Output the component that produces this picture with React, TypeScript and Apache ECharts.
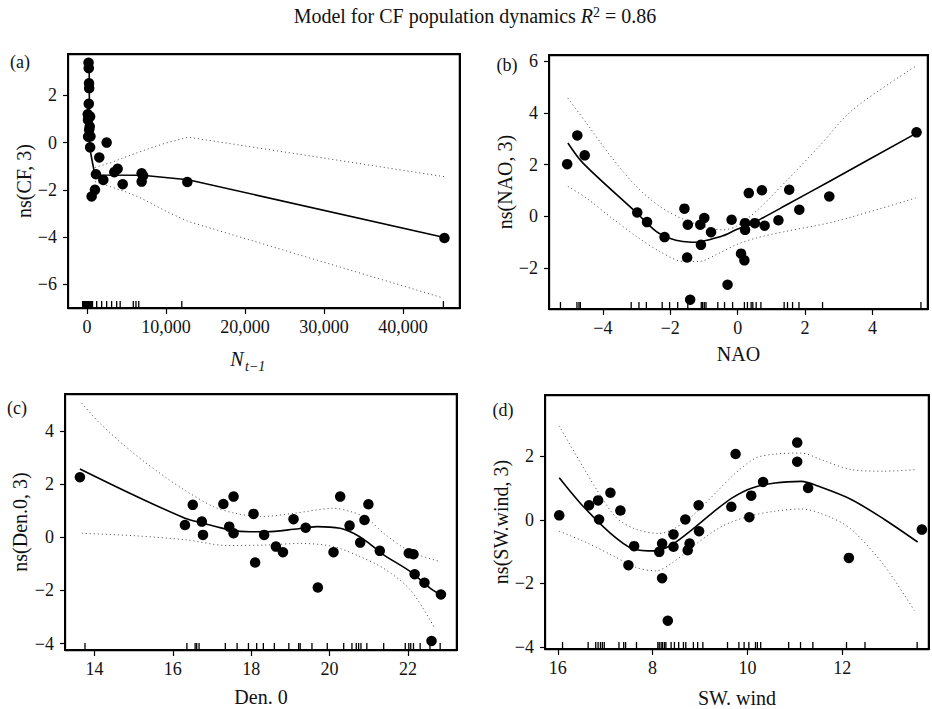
import React, { useEffect, useRef } from "react";
import * as echarts from "echarts";

const SERIF = '"Liberation Serif", "Times New Roman", serif';
const INK = "#111";

// ---------- Panel (a): ns(CF, 3) vs N_{t-1} ----------
const aPoints: number[][] = [
  [200, 3.38], [230, 3.15], [260, 2.51], [280, 2.3], [230, 1.64], [100, 1.2], [400, 1.1],
  [130, 0.96], [350, 0.68], [280, 0.54], [150, 0.25], [440, 0.26], [400, -0.2], [2490, 0.0],
  [1560, -0.63], [1140, -1.34], [2070, -1.58], [1010, -2.0], [590, -2.28], [3460, -1.25],
  [3880, -1.11], [4520, -1.76], [6920, -1.3], [6920, -1.65], [7100, -1.4], [12700, -1.67],
  [45230, -4.04],
];
const aFit: number[][] = [[280, 3.35], [330, -0.2], [1000, -1.37], [7000, -1.38], [12800, -1.57], [45230, -4.02]];
const aUpper: number[][] = [[1000, -1.05], [3000, -0.85], [4800, -0.62], [7760, -0.26], [9870, -0.03], [12800, 0.23], [45200, -1.44]];
const aLower: number[][] = [[1000, -1.65], [3000, -1.87], [4810, -2.07], [6710, -2.33], [10090, -2.92], [12830, -3.34], [45100, -6.58]];
const aRug: number[] = [-550, -420, -300, -180, -60, 60, 180, 300, 420, 550, 700, 1230, 1860, 2490, 3120, 3760, 4200, 5860, 6200, 6550, 12000, 45100];
const aXTicks = [0, 10000, 20000, 30000, 40000];
const aXLabels = ["0", "10,000", "20,000", "30,000", "40,000"];
const aYTicks = [-6, -4, -2, 0, 2];
const aYLabels = ["−6", "−4", "−2", "0", "2"];

// ---------- Panel (b): ns(NAO, 3) vs NAO ----------
const bPoints: number[][] = [
  [-5.06, 2.02], [-4.76, 3.13], [-4.54, 2.36], [-2.98, 0.15], [-2.69, -0.22], [-2.17, -0.8],
  [-1.58, 0.3], [-1.48, -0.32], [-1.5, -1.59], [-1.41, -3.22], [-1.11, -0.32], [-0.99, -0.06],
  [-1.09, -1.1], [-0.79, -0.61], [-0.3, -2.64], [-0.18, -0.13], [0.1, -1.44], [0.2, -1.7],
  [0.22, -0.26], [0.22, -0.52], [0.33, 0.9], [0.51, -0.26], [0.72, 1.01], [0.8, -0.36],
  [1.21, -0.15], [1.53, 1.03], [1.83, 0.26], [2.72, 0.77], [5.31, 3.25],
];
const bFit: number[][] = [
  [-5.04, 2.84], [-4.59, 2.06], [-3.01, 0.15], [-2.42, -0.58], [-2.02, -0.84], [-1.63, -0.97],
  [-1.23, -1.0], [-0.84, -0.9], [-0.44, -0.75], [-0.05, -0.52], [0.35, -0.32], [0.74, -0.06],
  [1.43, 0.43], [2.72, 1.35], [5.31, 3.22],
];
const bUpper: number[][] = [
  [-5.04, 4.57], [-4.49, 3.61], [-3.8, 2.38], [-3.01, 1.16], [-2.32, 0.39], [-1.63, -0.1],
  [-0.84, -0.45], [-0.44, -0.52], [-0.05, -0.39], [0.54, 0.19], [1.43, 1.35], [2.42, 2.71],
  [3.41, 4.12], [5.28, 5.8],
];
const bLower: number[][] = [
  [-5.04, 1.16], [-4.49, 0.71], [-3.8, 0.0], [-3.01, -0.77], [-2.32, -1.35], [-1.63, -1.74],
  [-1.14, -1.74], [-0.64, -1.48], [-0.05, -1.1], [0.54, -0.84], [1.43, -0.58], [2.91, -0.19],
  [5.28, 0.71],
];
const bRug: number[] = [
  -5.26, -4.77, -4.71, -4.67, -3.16, -2.93, -2.71, -2.24, -2.02, -1.78, -1.48, -1.08, -1.04,
  -0.99, -0.94, -0.59, -0.39, -0.15, 0.2, 0.29, 0.4, 0.45, 0.55, 0.69, 1.38, 1.48, 1.63, 1.82,
  2.52, 5.44,
];
const bXTicks = [-4, -2, 0, 2, 4];
const bXLabels = ["−4", "−2", "0", "2", "4"];
const bYTicks = [-2, 0, 2, 4, 6];
const bYLabels = ["−2", "0", "2", "4", "6"];

// ---------- Panel (c): ns(Den.0, 3) vs Den. 0 ----------
const cPoints: number[][] = [
  [13.63, 2.26], [16.31, 0.46], [16.51, 1.22], [16.74, 0.59], [16.77, 0.09], [17.29, 1.25],
  [17.55, 1.53], [17.44, 0.4], [17.55, 0.15], [18.06, 0.88], [18.1, -0.95], [18.33, 0.09],
  [18.63, -0.35], [18.81, -0.56], [19.08, 0.68], [19.39, 0.36], [19.7, -1.89], [20.1, -0.56],
  [20.27, 1.53], [20.51, 0.44], [20.78, -0.2], [20.89, 0.65], [20.99, 1.24], [21.28, -0.51],
  [22.02, -0.6], [22.14, -0.64], [22.17, -1.39], [22.42, -1.71], [22.6, -3.9], [22.84, -2.15],
];
const cFit: number[][] = [
  [13.63, 2.57], [15.0, 1.59], [16.31, 0.72], [16.78, 0.53], [17.46, 0.28], [17.97, 0.21],
  [18.4, 0.21], [19.08, 0.3], [19.68, 0.4], [20.27, 0.34], [20.61, 0.15], [20.95, -0.16],
  [21.38, -0.66], [22.06, -1.29], [22.57, -1.92], [22.84, -2.17],
];
const cUpper: number[][] = [
  [13.68, 5.04], [14.14, 4.29], [15.0, 3.16], [15.85, 2.22], [16.36, 1.72], [17.04, 1.15],
  [17.6, 0.9], [18.23, 0.78], [19.08, 0.9], [20.1, 1.09], [20.53, 0.97], [20.95, 0.72],
  [21.38, 0.15], [22.06, -0.54], [22.83, -0.92],
];
const cLower: number[][] = [
  [13.68, 0.15], [15.0, 0.06], [16.36, -0.1], [17.38, -0.31], [18.4, -0.29], [19.25, -0.23],
  [20.1, -0.35], [20.78, -0.73], [21.38, -1.17], [22.06, -1.98], [22.66, -3.36],
];
const cRug: number[] = [
  13.76, 16.36, 16.57, 16.61, 16.67, 17.34, 17.64, 17.93, 18.14, 18.31, 18.59, 18.96, 19.21,
  19.25, 19.55, 19.94, 20.36, 20.57, 20.68, 20.74, 20.8, 20.95, 21.38, 21.93, 22.02, 22.07,
  22.14, 22.31, 22.56, 22.82,
];
const cXTicks = [14, 16, 18, 20, 22];
const cXLabels = ["14", "16", "18", "20", "22"];
const cYTicks = [-4, -2, 0, 2, 4];
const cYLabels = ["−4", "−2", "0", "2", "4"];

// ---------- Panel (d): ns(SW.wind, 3) vs SW. wind ----------
const dPoints: number[][] = [
  [6.03, 0.14], [6.66, 0.46], [6.85, 0.61], [6.87, 0.01], [7.11, 0.85], [7.32, 0.29],
  [7.49, -1.43], [7.61, -0.83], [8.14, -1.01], [8.2, -0.75], [8.2, -1.84], [8.32, -3.18],
  [8.44, -0.46], [8.44, -0.85], [8.69, 0.01], [8.74, -0.96], [8.78, -0.75], [8.97, 0.46],
  [8.98, -0.36], [9.66, 0.41], [9.75, 2.07], [10.04, 0.08], [10.08, 0.76], [10.33, 1.19],
  [11.05, 2.43], [11.05, 1.83], [11.28, 1.0], [12.14, -1.2], [13.68, -0.31],
];
const dFit: number[][] = [
  [6.03, 1.32], [6.47, 0.53], [7.1, -0.41], [7.58, -0.91], [8.07, -0.98], [8.42, -0.77],
  [8.84, -0.3], [9.26, 0.22], [9.68, 0.69], [10.1, 1.0], [10.58, 1.16], [11.14, 1.21],
  [11.49, 1.06], [12.19, 0.64], [12.89, 0.01], [13.59, -0.7],
];
const dUpper: number[][] = [
  [6.03, 2.96], [6.4, 2.0], [6.82, 0.95], [7.24, 0.06], [7.65, -0.3], [8.14, -0.43],
  [8.49, -0.25], [8.91, 0.22], [9.33, 0.85], [9.75, 1.47], [10.17, 1.94], [10.58, 2.07],
  [11.14, 2.1], [11.56, 1.89], [12.19, 1.58], [12.89, 1.53], [13.55, 1.58],
];
const dLower: number[][] = [
  [6.03, -0.36], [6.61, -0.72], [7.17, -1.14], [7.65, -1.5], [8.07, -1.61], [8.42, -1.35],
  [8.91, -0.77], [9.47, -0.2], [10.03, 0.11], [10.58, 0.27], [11.14, 0.34], [11.7, 0.11],
  [12.19, -0.3], [12.89, -1.45], [13.52, -2.86],
];
const dRug: number[] = [
  6.1, 6.64, 6.8, 6.85, 6.9, 6.94, 6.98, 7.29, 7.39, 7.43, 7.66, 8.11, 8.14, 8.18, 8.21, 8.25,
  8.28, 8.39, 8.46, 8.55, 8.65, 8.7, 8.86, 8.95, 9.06, 9.58, 9.82, 9.93, 10.03, 10.17, 10.21,
  10.28, 10.87, 11.12, 11.38, 12.09, 12.48, 13.58,
];
const dXTicks = [6, 8, 10, 12];
const dXLabels = ["16", "8", "10", "12"];
const dYTicks = [-4, -2, 0, 2];
const dYLabels = ["−4", "−2", "0", "2"];

const panels = [
  {
    points: aPoints, fit: aFit, upper: aUpper, lower: aLower, rug: aRug,
    xMin: -2400, xMax: 47200, yMin: -7, yMax: 3.75,
    xTicks: aXTicks, xLabels: aXLabels, yTicks: aYTicks, yLabels: aYLabels,
    xName: "", yName: "ns(CF, 3)", smooth: false,
    grid: { left: 68, top: 54, width: 392, height: 254 }, xGap: 38, yGap: 31,
  },
  {
    points: bPoints, fit: bFit, upper: bUpper, lower: bLower, rug: bRug,
    xMin: -5.6, xMax: 5.65, yMin: -3.58, yMax: 6.24,
    xTicks: bXTicks, xLabels: bXLabels, yTicks: bYTicks, yLabels: bYLabels,
    xName: "NAO", yName: "ns(NAO, 3)", smooth: 0.3,
    grid: { left: 549, top: 55, width: 379, height: 254 }, xGap: 35, yGap: 34,
  },
  {
    points: cPoints, fit: cFit, upper: cUpper, lower: cLower, rug: cRug,
    xMin: 13.25, xMax: 23.25, yMin: -4.24, yMax: 5.39,
    xTicks: cXTicks, xLabels: cXLabels, yTicks: cYTicks, yLabels: cYLabels,
    xName: "Den. 0", yName: "ns(Den.0, 3)", smooth: 0.3,
    grid: { left: 65, top: 394, width: 392, height: 256 }, xGap: 37, yGap: 35,
  },
  {
    points: dPoints, fit: dFit, upper: dUpper, lower: dLower, rug: dRug,
    xMin: 5.73, xMax: 13.83, yMin: -4.07, yMax: 3.93,
    xTicks: dXTicks, xLabels: dXLabels, yTicks: dYTicks, yLabels: dYLabels,
    xName: "SW. wind", yName: "ns(SW.wind, 3)", smooth: 0.3,
    grid: { left: 545, top: 395, width: 384, height: 255 }, xGap: 39, yGap: 31,
  },
];

const panelTags = [
  { t: "(a)", x: 20, y: 62 },
  { t: "(b)", x: 507, y: 65 },
  { t: "(c)", x: 17, y: 408 },
  { t: "(d)", x: 503, y: 410 },
];

function labelFor(ticks: number[], labels: string[], v: number) {
  for (let i = 0; i < ticks.length; i++) if (Math.abs(ticks[i] - v) < 1e-6) return labels[i];
  return "";
}

export default function App() {
  const ref = useRef<HTMLDivElement | null>(null);
  useEffect(() => {
    if (!ref.current) return;
    const chart = echarts.init(ref.current, null, { renderer: "svg" });
    const grid: any[] = [];
    const xAxis: any[] = [];
    const yAxis: any[] = [];
    const series: any[] = [];
    panels.forEach((p, i) => {
      grid.push({
        left: p.grid.left, top: p.grid.top, width: p.grid.width, height: p.grid.height,
        show: true, borderWidth: 2, borderColor: "#000000", backgroundColor: "rgba(0,0,0,0)",
      });
      xAxis.push({
        type: "value", gridIndex: i, min: p.xMin, max: p.xMax, position: "bottom",
        axisLine: { show: true, onZero: false, lineStyle: { color: "#000", width: 1.3 } },
        axisTick: { show: true, inside: false, length: 6, customValues: p.xTicks, lineStyle: { color: "#000", width: 1.2 } },
        axisLabel: {
          show: true, customValues: p.xTicks, margin: 10,
          formatter: (v: number) => labelFor(p.xTicks, p.xLabels, v),
          fontFamily: SERIF, fontSize: 18, color: INK,
        },
        splitLine: { show: false },
        name: p.xName, nameLocation: "middle", nameGap: p.xGap,
        nameTextStyle: { fontFamily: SERIF, fontSize: 20, color: INK },
      });
      yAxis.push({
        type: "value", gridIndex: i, min: p.yMin, max: p.yMax, position: "left",
        axisLine: { show: true, onZero: false, lineStyle: { color: "#000", width: 1.3 } },
        axisTick: { show: true, inside: false, length: 5, customValues: p.yTicks, lineStyle: { color: "#000", width: 1.2 } },
        axisLabel: {
          show: true, customValues: p.yTicks, margin: 11,
          formatter: (v: number) => labelFor(p.yTicks, p.yLabels, v),
          fontFamily: SERIF, fontSize: 18, color: INK,
        },
        splitLine: { show: false },
        name: p.yName, nameLocation: "middle", nameGap: p.yGap, nameRotate: 90,
        nameTextStyle: { fontFamily: SERIF, fontSize: 20, color: INK },
      });
      const band = (data: number[][]) => ({
        type: "line", xAxisIndex: i, yAxisIndex: i, data, symbol: "none", showSymbol: false,
        smooth: p.smooth, silent: true, z: 1,
        lineStyle: { color: "#444", width: 1, type: [1, 3] },
      });
      series.push(band(p.upper));
      series.push(band(p.lower));
      series.push({
        type: "line", xAxisIndex: i, yAxisIndex: i, data: p.fit, symbol: "none", showSymbol: false,
        smooth: p.smooth, silent: true, z: 2,
        lineStyle: { color: "#000", width: 1.6 },
      });
      series.push({
        type: "scatter", xAxisIndex: i, yAxisIndex: i, data: p.points, symbol: "circle", symbolSize: 10.5,
        itemStyle: { color: "#000", opacity: 1 }, silent: true, z: 3,
      });
      series.push({
        type: "scatter", xAxisIndex: i, yAxisIndex: i, data: p.rug.map((x) => [x, p.yMin]),
        symbol: "rect", symbolSize: [1.3, 7], symbolOffset: [0, -3.5], clip: false,
        itemStyle: { color: "#000", opacity: 1 }, silent: true, z: 4,
      });
    });

    const graphic: any[] = [
      {
        type: "text", x: 475, y: 16,
        style: {
          text: "Model for CF population dynamics {i|R}{sup|2} = 0.86",
          fontFamily: SERIF, fontSize: 20, fill: INK, lineHeight: 22,
          textAlign: "center", textVerticalAlign: "middle", align: "center", verticalAlign: "middle",
          rich: {
            i: { fontFamily: SERIF, fontSize: 20, fontStyle: "italic", fill: INK, lineHeight: 22 },
            sup: { fontFamily: SERIF, fontSize: 14, fill: INK, verticalAlign: "top", lineHeight: 14 },
          },
        },
      },
      {
        type: "text", x: 237, y: 359,
        style: { text: "N", fontFamily: SERIF, fontSize: 20, fontStyle: "italic", fill: INK,
          textAlign: "center", textVerticalAlign: "middle", align: "center", verticalAlign: "middle" },
      },
      {
        type: "text", x: 245, y: 366,
        style: { text: "t−1", fontFamily: SERIF, fontSize: 14, fontStyle: "italic", fill: INK,
          textAlign: "left", textVerticalAlign: "middle", align: "left", verticalAlign: "middle" },
      },
      ...panelTags.map((t) => ({
        type: "text", x: t.x, y: t.y,
        style: { text: t.t, fontFamily: SERIF, fontSize: 18, fill: INK,
          textAlign: "center", textVerticalAlign: "middle", align: "center", verticalAlign: "middle" },
      })),
    ];
    // explicit top/right frame strokes, drawn as simple line elements
    panels.forEach((p) => {
      const L = p.grid.left, T = p.grid.top, R = p.grid.left + p.grid.width, B = p.grid.top + p.grid.height;
      graphic.push({ type: "line", z: 100, shape: { x1: L, y1: T + 0.5, x2: R, y2: T + 0.5 }, style: { stroke: "#000", lineWidth: 1.5 } });
      graphic.push({ type: "line", z: 100, shape: { x1: R - 0.5, y1: T, x2: R - 0.5, y2: B }, style: { stroke: "#000", lineWidth: 1.5 } });
    });

    chart.setOption({
      animation: false,
      backgroundColor: "#ffffff",
      grid, xAxis, yAxis, series, graphic,
    } as any);
    return () => chart.dispose();
  }, []);
  return (
    <div
      ref={ref}
      style={{ position: "fixed", left: 0, top: 0, width: 932, height: 709, background: "#fff" }}
    />
  );
}
